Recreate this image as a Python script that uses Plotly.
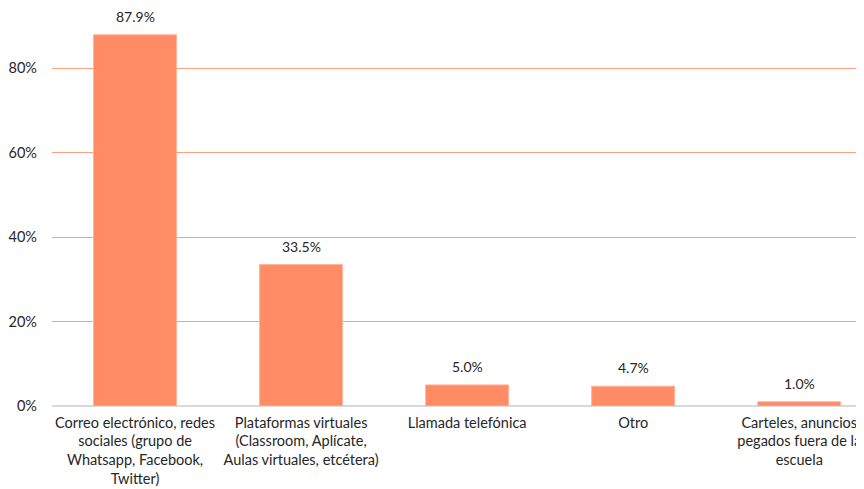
import plotly.graph_objects as go

categories = [
    "Correo electrónico, redes<br>sociales (grupo de<br>Whatsapp, Facebook,<br>Twitter)",
    "Plataformas virtuales<br>(Classroom, Aplícate,<br>Aulas virtuales, etcétera)",
    "Llamada telefónica",
    "Otro",
    "Carteles, anuncios<br>pegados fuera de la<br>escuela",
]
values = [0.879, 0.335, 0.050, 0.047, 0.010]
labels = ["87.9%", "33.5%", "5.0%", "4.7%", "1.0%"]

xs = list(range(len(categories)))

fig = go.Figure(
    go.Bar(
        x=xs,
        y=values,
        width=0.5,
        marker=dict(color="#FF8C64", line=dict(color="#FFB59A", width=1)),
        hoverinfo="skip",
    )
)

for x, v, t in zip(xs, values, labels):
    fig.add_annotation(
        x=x, y=v, text=t, showarrow=False, yanchor="bottom", yshift=8,
        font=dict(size=14, color="#262626"),
    )

fig.update_layout(
    width=856,
    height=481,
    margin=dict(l=44, r=0, t=18, b=83),
    plot_bgcolor="white",
    paper_bgcolor="white",
    font=dict(family="Lato, Open Sans, sans-serif", size=14.5, color="#262626"),
    showlegend=False,
    xaxis=dict(
        tickmode="array",
        tickvals=xs,
        ticktext=categories,
        range=[-0.5, 4.39],
        showgrid=False,
        showline=False,
        ticks="",
        ticklabelstandoff=6,
        tickfont=dict(size=14.5, color="#262626"),
    ),
    yaxis=dict(
        range=[0, 0.9],
        tickvals=[0, 0.2, 0.4, 0.6, 0.8],
        tickformat=".0%",
        showgrid=True,
        gridcolor="#FF9F7C",
        gridwidth=1,
        zeroline=True,
        zerolinecolor="#D9D9D9",
        zerolinewidth=2,
        showline=False,
        ticks="",
        ticklabelstandoff=14,
        tickfont=dict(size=14.5, color="#262626"),
    ),
)

fig.write_html("out.html")
